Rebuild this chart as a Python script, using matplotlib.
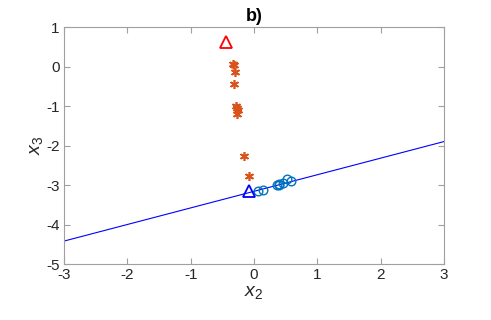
import matplotlib.pyplot as plt

# Data
star_x = [-0.33, -0.31, -0.30, -0.32, -0.28, -0.27, -0.26, -0.27, -0.16, -0.08]
star_y = [0.07, 0.03, -0.13, -0.45, -1.00, -1.05, -1.10, -1.20, -2.27, -2.76]
circ_x = [0.07, 0.15, 0.37, 0.39, 0.40, 0.46, 0.52, 0.58]
circ_y = [-3.15, -3.13, -2.99, -2.97, -3.00, -2.96, -2.84, -2.89]
line_x = [-3, 3]
line_y = [-4.42, -1.90]
red_tri = (-0.44, 0.62)
blue_tri = (-0.08, -3.15)

plt.rcParams['font.family'] = ['Liberation Sans', 'DejaVu Sans']
plt.rcParams['axes.unicode_minus'] = False
plt.rcParams['mathtext.fontset'] = 'custom'
plt.rcParams['mathtext.it'] = 'Liberation Sans:italic'
plt.rcParams['mathtext.rm'] = 'Liberation Sans'

fig = plt.figure(figsize=(4.91, 3.2), dpi=100)
ax = fig.add_axes([0.1303, 0.175, 0.774, 0.7406])

ax.plot(line_x, line_y, color=(0, 0, 1), linewidth=0.8)
ax.plot(star_x, star_y, linestyle='none', marker=(6, 2, 0), color=(0.85, 0.33, 0.1),
        markersize=6.5, markeredgewidth=1.2)
ax.plot(circ_x, circ_y, linestyle='none', marker='o', markerfacecolor='none',
        markeredgecolor=(0, 0.45, 0.74), markersize=6.2, markeredgewidth=1)
ax.plot([red_tri[0]], [red_tri[1]], linestyle='none', marker='^', markerfacecolor='none',
        markeredgecolor='red', markersize=8, markeredgewidth=1.3)
ax.plot([blue_tri[0]], [blue_tri[1]], linestyle='none', marker='^', markerfacecolor='none',
        markeredgecolor=(0, 0, 1), markersize=8, markeredgewidth=1.3)

ax.set_xlim(-3, 3)
ax.set_ylim(-5, 1)
ax.set_xticks(range(-3, 4))
ax.set_yticks(range(-5, 2))

for s in ax.spines.values():
    s.set_color('#a0a0a0')
    s.set_linewidth(0.8)
ax.tick_params(direction='in', length=4, color='#a0a0a0', labelsize=11,
               labelcolor='#262626', top=True, right=True, pad=3)

ax.set_title('b)', fontsize=13, fontweight='bold', pad=4)
ax.set_xlabel('$x_2$', fontsize=14, color='#262626', labelpad=1)
ax.set_ylabel('$x_3$', fontsize=14, color='#262626', labelpad=1)

fig.savefig('out.png', dpi=100)
